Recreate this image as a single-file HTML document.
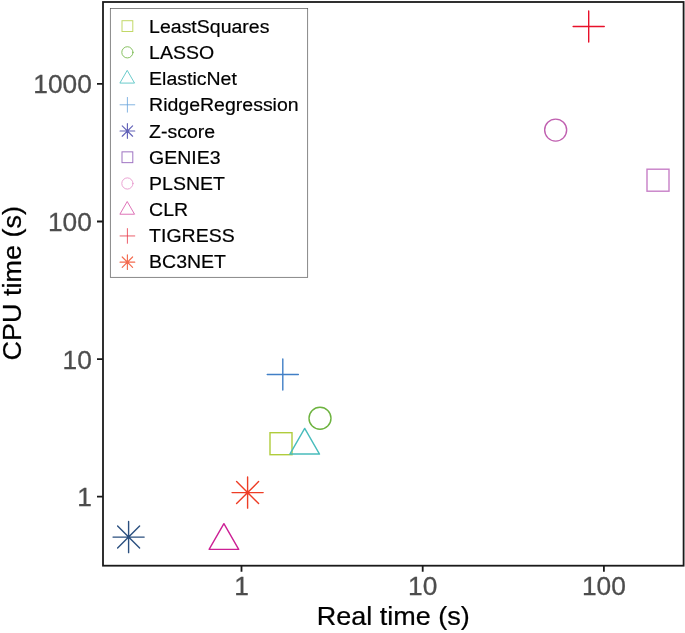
<!DOCTYPE html>
<html><head><meta charset="utf-8"><title>CPU time vs Real time</title>
<style>html,body{margin:0;padding:0;background:#fff;}svg{display:block}text{font-family:"Liberation Sans",sans-serif;}</style>
</head><body>
<svg width="685" height="633" viewBox="0 0 685 633">
<rect x="0" y="0" width="685" height="633" fill="#ffffff"/>
<rect x="103.0" y="2.0" width="580.60" height="563.70" fill="none" stroke="#1a1a1a" stroke-width="1.8"/>
<path d="M97.00 83.9H103.0M97.00 221.5H103.0M97.00 359.1H103.0M97.00 496.7H103.0M241.5 565.7V571.70M422.7 565.7V571.70M603.9 565.7V571.70" stroke="#1a1a1a" stroke-width="1.8" fill="none"/>
<text x="91.8" y="93.30" text-anchor="end" font-size="26.3" fill="#4d4d4d" stroke="#4d4d4d" stroke-width="0.3">1000</text>
<text x="91.8" y="230.90" text-anchor="end" font-size="26.3" fill="#4d4d4d" stroke="#4d4d4d" stroke-width="0.3">100</text>
<text x="91.8" y="368.50" text-anchor="end" font-size="26.3" fill="#4d4d4d" stroke="#4d4d4d" stroke-width="0.3">10</text>
<text x="91.8" y="506.10" text-anchor="end" font-size="26.3" fill="#4d4d4d" stroke="#4d4d4d" stroke-width="0.3">1</text>
<text x="241.5" y="595.3" text-anchor="middle" font-size="26.3" fill="#4d4d4d" stroke="#4d4d4d" stroke-width="0.3">1</text>
<text x="422.7" y="595.3" text-anchor="middle" font-size="26.3" fill="#4d4d4d" stroke="#4d4d4d" stroke-width="0.3">10</text>
<text x="603.9" y="595.3" text-anchor="middle" font-size="26.3" fill="#4d4d4d" stroke="#4d4d4d" stroke-width="0.3">100</text>
<text transform="translate(393.2 625.1) scale(1 0.953)" text-anchor="middle" font-size="27" fill="#000" stroke="#000" stroke-width="0.25">Real time (s)</text>
<text transform="translate(21 283.3) rotate(-90) scale(1 0.953)" text-anchor="middle" font-size="27" fill="#000" stroke="#000" stroke-width="0.25">CPU time (s)</text>
<rect x="110.3" y="8.4" width="197.4" height="268.9" fill="#fff" stroke="#555" stroke-width="0.7"/>
<rect x="122.00" y="20.70" width="10.80" height="10.80" stroke="#b5d045" stroke-width="1.0" fill="none" stroke-linecap="round" stroke-opacity="0.82"/>
<text transform="translate(149.1 32.85) scale(1 0.965)" font-size="19.5" fill="#000" stroke="#000" stroke-width="0.2">LeastSquares</text>
<circle cx="127.40" cy="52.33" r="5.60" stroke="#6db33f" stroke-width="1.0" fill="none" stroke-linecap="round" stroke-opacity="0.82"/>
<text transform="translate(149.1 59.02) scale(1 0.965)" font-size="19.5" fill="#000" stroke="#000" stroke-width="0.2">LASSO</text>
<path d="M127.40 70.72L134.54 83.08L120.26 83.08Z" stroke="#4abfc0" stroke-width="1.0" fill="none" stroke-linecap="round" stroke-opacity="0.82" stroke-linejoin="round"/>
<text transform="translate(149.1 85.19) scale(1 0.965)" font-size="19.5" fill="#000" stroke="#000" stroke-width="0.2">ElasticNet</text>
<path d="M120.05 104.79H134.75M127.40 97.44V112.14" stroke="#6aa5dc" stroke-width="1.0" fill="none" stroke-linecap="round" stroke-opacity="0.82"/>
<text transform="translate(149.1 111.36) scale(1 0.965)" font-size="19.5" fill="#000" stroke="#000" stroke-width="0.2">RidgeRegression</text>
<path d="M120.05 131.02H134.75M127.40 123.67V138.37M122.20 125.82L132.60 136.22M122.20 136.22L132.60 125.82" stroke="#4040a8" stroke-width="1.15" fill="none" stroke-linecap="round" stroke-opacity="0.82"/>
<text transform="translate(149.1 137.53) scale(1 0.965)" font-size="19.5" fill="#000" stroke="#000" stroke-width="0.2">Z-score</text>
<rect x="122.00" y="151.85" width="10.80" height="10.80" stroke="#8a55b5" stroke-width="1.0" fill="none" stroke-linecap="round" stroke-opacity="0.82"/>
<text transform="translate(149.1 163.70) scale(1 0.965)" font-size="19.5" fill="#000" stroke="#000" stroke-width="0.2">GENIE3</text>
<circle cx="127.40" cy="183.48" r="5.60" stroke="#e58fc8" stroke-width="1.0" fill="none" stroke-linecap="round" stroke-opacity="0.82"/>
<text transform="translate(149.1 189.87) scale(1 0.965)" font-size="19.5" fill="#000" stroke="#000" stroke-width="0.2">PLSNET</text>
<path d="M127.40 201.87L134.54 214.23L120.26 214.23Z" stroke="#d855a8" stroke-width="1.0" fill="none" stroke-linecap="round" stroke-opacity="0.82" stroke-linejoin="round"/>
<text transform="translate(149.1 216.04) scale(1 0.965)" font-size="19.5" fill="#000" stroke="#000" stroke-width="0.2">CLR</text>
<path d="M120.05 235.94H134.75M127.40 228.59V243.29" stroke="#e83a4a" stroke-width="1.0" fill="none" stroke-linecap="round" stroke-opacity="0.82"/>
<text transform="translate(149.1 242.21) scale(1 0.965)" font-size="19.5" fill="#000" stroke="#000" stroke-width="0.2">TIGRESS</text>
<path d="M120.05 262.17H134.75M127.40 254.82V269.52M122.20 256.97L132.60 267.37M122.20 267.37L132.60 256.97" stroke="#f04a28" stroke-width="1.15" fill="none" stroke-linecap="round" stroke-opacity="0.82"/>
<text transform="translate(149.1 268.38) scale(1 0.965)" font-size="19.5" fill="#000" stroke="#000" stroke-width="0.2">BC3NET</text>
<rect x="270.00" y="432.70" width="22.00" height="22.00" stroke="#b0cc3c" stroke-width="1.4" fill="none" stroke-linecap="round"/>
<circle cx="320.00" cy="418.30" r="11.00" stroke="#6db33f" stroke-width="1.4" fill="none" stroke-linecap="round"/>
<path d="M304.70 428.39L319.51 454.05L289.89 454.05Z" stroke="#48bcbc" stroke-width="1.4" fill="none" stroke-linecap="round" stroke-linejoin="round"/>
<path d="M267.24 374.50H298.36M282.80 358.94V390.06" stroke="#417fc6" stroke-width="1.4" fill="none" stroke-linecap="round"/>
<path d="M113.04 537.10H144.16M128.60 521.54V552.66M117.60 526.10L139.60 548.10M117.60 548.10L139.60 526.10" stroke="#2a4f7f" stroke-width="1.4" fill="none" stroke-linecap="round"/>
<rect x="647.00" y="169.20" width="22.00" height="22.00" stroke="#c77fc7" stroke-width="1.4" fill="none" stroke-linecap="round"/>
<circle cx="555.65" cy="130.10" r="11.00" stroke="#c060b0" stroke-width="1.4" fill="none" stroke-linecap="round"/>
<path d="M223.90 523.69L238.71 549.35L209.09 549.35Z" stroke="#cc2095" stroke-width="1.4" fill="none" stroke-linecap="round" stroke-linejoin="round"/>
<path d="M573.14 26.50H604.26M588.70 10.94V42.06" stroke="#e8102a" stroke-width="1.4" fill="none" stroke-linecap="round"/>
<path d="M232.04 492.60H263.16M247.60 477.04V508.16M236.60 481.60L258.60 503.60M236.60 503.60L258.60 481.60" stroke="#ee3d26" stroke-width="1.4" fill="none" stroke-linecap="round"/>
</svg></body></html>
